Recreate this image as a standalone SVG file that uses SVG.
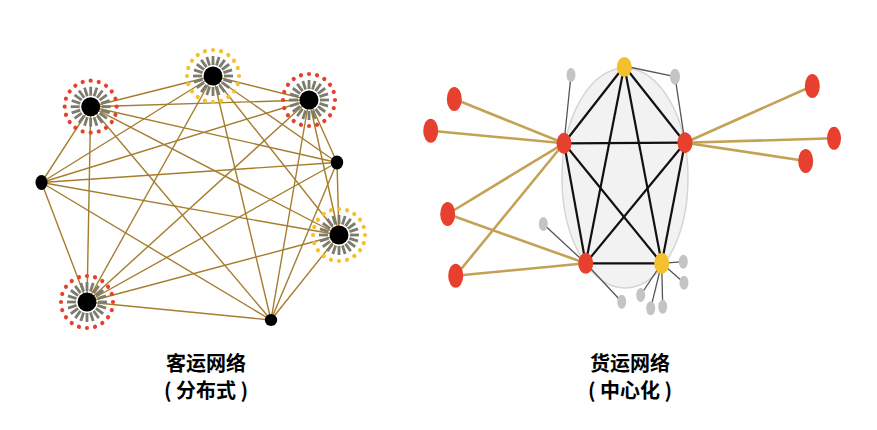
<svg xmlns="http://www.w3.org/2000/svg" xmlns:xlink="http://www.w3.org/1999/xlink" width="877" height="430" viewBox="0 0 877 430">
<style>
.e1{stroke:#a67d2e;stroke-width:1.4;fill:none}
.blk{fill:#000}
.spk{stroke:#7c7c6e;stroke-width:2.8}
.hub{stroke:#111;stroke-width:2.2}
.gold{stroke:#c4a255;stroke-width:2.6}
.thin{stroke:#555;stroke-width:1.3}
.red{fill:#e8402e}
.yel{fill:#f4c02c}
.gry{fill:#c4c4c4}
.lbl{font-family:"Noto Sans CJK SC","Noto Sans",sans-serif;font-weight:bold;font-size:20px;text-anchor:middle;fill:#000}
</style>
<defs>
<g id="spokes" class="spk">
<line x1="11" y1="0" x2="20" y2="0"/>
<line x1="11" y1="0" x2="20" y2="0" transform="rotate(18)"/>
<line x1="11" y1="0" x2="20" y2="0" transform="rotate(36)"/>
<line x1="11" y1="0" x2="20" y2="0" transform="rotate(54)"/>
<line x1="11" y1="0" x2="20" y2="0" transform="rotate(72)"/>
<line x1="11" y1="0" x2="20" y2="0" transform="rotate(90)"/>
<line x1="11" y1="0" x2="20" y2="0" transform="rotate(108)"/>
<line x1="11" y1="0" x2="20" y2="0" transform="rotate(126)"/>
<line x1="11" y1="0" x2="20" y2="0" transform="rotate(144)"/>
<line x1="11" y1="0" x2="20" y2="0" transform="rotate(162)"/>
<line x1="11" y1="0" x2="20" y2="0" transform="rotate(180)"/>
<line x1="11" y1="0" x2="20" y2="0" transform="rotate(198)"/>
<line x1="11" y1="0" x2="20" y2="0" transform="rotate(216)"/>
<line x1="11" y1="0" x2="20" y2="0" transform="rotate(234)"/>
<line x1="11" y1="0" x2="20" y2="0" transform="rotate(252)"/>
<line x1="11" y1="0" x2="20" y2="0" transform="rotate(270)"/>
<line x1="11" y1="0" x2="20" y2="0" transform="rotate(288)"/>
<line x1="11" y1="0" x2="20" y2="0" transform="rotate(306)"/>
<line x1="11" y1="0" x2="20" y2="0" transform="rotate(324)"/>
<line x1="11" y1="0" x2="20" y2="0" transform="rotate(342)"/>
</g>
<g id="dots">
<circle cx="26" cy="0" r="2.1"/>
<circle cx="26" cy="0" r="2.1" transform="rotate(18)"/>
<circle cx="26" cy="0" r="2.1" transform="rotate(36)"/>
<circle cx="26" cy="0" r="2.1" transform="rotate(54)"/>
<circle cx="26" cy="0" r="2.1" transform="rotate(72)"/>
<circle cx="26" cy="0" r="2.1" transform="rotate(90)"/>
<circle cx="26" cy="0" r="2.1" transform="rotate(108)"/>
<circle cx="26" cy="0" r="2.1" transform="rotate(126)"/>
<circle cx="26" cy="0" r="2.1" transform="rotate(144)"/>
<circle cx="26" cy="0" r="2.1" transform="rotate(162)"/>
<circle cx="26" cy="0" r="2.1" transform="rotate(180)"/>
<circle cx="26" cy="0" r="2.1" transform="rotate(198)"/>
<circle cx="26" cy="0" r="2.1" transform="rotate(216)"/>
<circle cx="26" cy="0" r="2.1" transform="rotate(234)"/>
<circle cx="26" cy="0" r="2.1" transform="rotate(252)"/>
<circle cx="26" cy="0" r="2.1" transform="rotate(270)"/>
<circle cx="26" cy="0" r="2.1" transform="rotate(288)"/>
<circle cx="26" cy="0" r="2.1" transform="rotate(306)"/>
<circle cx="26" cy="0" r="2.1" transform="rotate(324)"/>
<circle cx="26" cy="0" r="2.1" transform="rotate(342)"/>
</g>
</defs>
<rect width="877" height="430" fill="#fff"/>

<!-- Left network connectors (complete graph) -->
<g id="left-connectors" class="e1">
<line x1="90.7" y1="106.7" x2="213" y2="76"/>
<line x1="90.7" y1="106.7" x2="309" y2="100"/>
<line x1="90.7" y1="106.7" x2="337" y2="162.5"/>
<line x1="90.7" y1="106.7" x2="339" y2="235"/>
<line x1="90.7" y1="106.7" x2="271" y2="320"/>
<line x1="90.7" y1="106.7" x2="87" y2="302"/>
<line x1="90.7" y1="106.7" x2="41.5" y2="182.5"/>
<line x1="213" y1="76" x2="309" y2="100"/>
<line x1="213" y1="76" x2="337" y2="162.5"/>
<line x1="213" y1="76" x2="339" y2="235"/>
<line x1="213" y1="76" x2="271" y2="320"/>
<line x1="213" y1="76" x2="87" y2="302"/>
<line x1="213" y1="76" x2="41.5" y2="182.5"/>
<line x1="309" y1="100" x2="337" y2="162.5"/>
<line x1="309" y1="100" x2="339" y2="235"/>
<line x1="309" y1="100" x2="271" y2="320"/>
<line x1="309" y1="100" x2="87" y2="302"/>
<line x1="309" y1="100" x2="41.5" y2="182.5"/>
<line x1="337" y1="162.5" x2="339" y2="235"/>
<line x1="337" y1="162.5" x2="271" y2="320"/>
<line x1="337" y1="162.5" x2="87" y2="302"/>
<line x1="337" y1="162.5" x2="41.5" y2="182.5"/>
<line x1="339" y1="235" x2="271" y2="320"/>
<line x1="339" y1="235" x2="87" y2="302"/>
<line x1="339" y1="235" x2="41.5" y2="182.5"/>
<line x1="271" y1="320" x2="87" y2="302"/>
<line x1="271" y1="320" x2="41.5" y2="182.5"/>
<line x1="87" y1="302" x2="41.5" y2="182.5"/>
</g>

<!-- Left network nodes -->
<g id="p1" transform="translate(90.7,106.7)"><use xlink:href="#dots" class="red"/><use xlink:href="#spokes"/><circle r="9.5" class="blk"/></g>
<g id="p2" transform="translate(213,76)"><use xlink:href="#dots" class="yel"/><use xlink:href="#spokes"/><circle r="9.5" class="blk"/></g>
<g id="p3" transform="translate(309,100)"><use xlink:href="#dots" class="red"/><use xlink:href="#spokes"/><circle r="9.5" class="blk"/></g>
<g id="p4"><ellipse cx="337" cy="162.5" rx="6.2" ry="7" class="blk"/></g>
<g id="p5" transform="translate(339,235)"><use xlink:href="#dots" class="yel"/><use xlink:href="#spokes"/><circle r="9.5" class="blk"/></g>
<g id="p6"><ellipse cx="271" cy="320" rx="6.2" ry="6" class="blk"/></g>
<g id="p7" transform="translate(87,302)"><use xlink:href="#dots" class="red"/><use xlink:href="#spokes"/><circle r="9.5" class="blk"/></g>
<g id="p8"><ellipse cx="41.5" cy="182.5" rx="6" ry="7.5" class="blk"/></g>

<!-- Right network background cluster -->
<g id="cluster"><ellipse cx="625" cy="178" rx="63" ry="110" fill="#f2f2f2" stroke="#d6d6ce" stroke-width="1.5"/></g>

<!-- Right network connectors -->
<g id="right-connectors">
<g class="gold">
<line x1="564" y1="143.3" x2="454.3" y2="99"/>
<line x1="564" y1="143.3" x2="430.7" y2="130.7"/>
<line x1="564" y1="143.3" x2="447.7" y2="214"/>
<line x1="564" y1="143.3" x2="455.7" y2="275.7"/>
<line x1="585.7" y1="263.3" x2="447.7" y2="214"/>
<line x1="585.7" y1="263.3" x2="455.7" y2="275.7"/>
<line x1="685" y1="142.7" x2="812.3" y2="86"/>
<line x1="685" y1="142.7" x2="834" y2="138.3"/>
<line x1="685" y1="142.7" x2="805.7" y2="161"/>
</g>
<g class="thin">
<line x1="564" y1="143.3" x2="571" y2="75"/>
<line x1="624.3" y1="66" x2="675" y2="76.7"/>
<line x1="685" y1="142.7" x2="675" y2="76.7"/>
<line x1="585.7" y1="263.3" x2="543.3" y2="224"/>
<line x1="585.7" y1="263.3" x2="621.7" y2="301.7"/>
<line x1="661.7" y1="263.3" x2="683.3" y2="261.7"/>
<line x1="661.7" y1="263.3" x2="684" y2="282.7"/>
<line x1="661.7" y1="263.3" x2="640.7" y2="295"/>
<line x1="661.7" y1="263.3" x2="650.7" y2="308.3"/>
<line x1="661.7" y1="263.3" x2="662.7" y2="306.7"/>
</g>
<g class="hub">
<line x1="624.3" y1="66" x2="564" y2="143.3"/>
<line x1="624.3" y1="66" x2="685" y2="142.7"/>
<line x1="624.3" y1="66" x2="585.7" y2="263.3"/>
<line x1="624.3" y1="66" x2="661.7" y2="263.3"/>
<line x1="564" y1="143.3" x2="685" y2="142.7"/>
<line x1="564" y1="143.3" x2="585.7" y2="263.3"/>
<line x1="564" y1="143.3" x2="661.7" y2="263.3"/>
<line x1="685" y1="142.7" x2="585.7" y2="263.3"/>
<line x1="685" y1="142.7" x2="661.7" y2="263.3"/>
<line x1="585.7" y1="263.3" x2="661.7" y2="263.3"/>
</g>
</g>

<!-- Right network nodes -->
<g id="h-top"><ellipse cx="624.3" cy="67" rx="7.5" ry="10" class="yel"/></g>
<g id="h-left"><ellipse cx="564" cy="143.3" rx="7.5" ry="10.5" class="red"/></g>
<g id="h-right"><ellipse cx="685" cy="142.7" rx="7.5" ry="10.5" class="red"/></g>
<g id="h-bred"><ellipse cx="585.7" cy="263.3" rx="7.5" ry="10.5" class="red"/></g>
<g id="h-byel"><ellipse cx="661.7" cy="263.3" rx="7.5" ry="10.5" class="yel"/></g>
<g id="o1"><ellipse cx="454.3" cy="99" rx="7.5" ry="12" class="red"/></g>
<g id="o2"><ellipse cx="430.7" cy="130.7" rx="7.5" ry="12" class="red"/></g>
<g id="o3"><ellipse cx="447.7" cy="214" rx="7.5" ry="12" class="red"/></g>
<g id="o4"><ellipse cx="455.7" cy="275.7" rx="7.5" ry="12" class="red"/></g>
<g id="o5"><ellipse cx="812.3" cy="86" rx="7.5" ry="12" class="red"/></g>
<g id="o6"><ellipse cx="834" cy="138.3" rx="7" ry="11.5" class="red"/></g>
<g id="o7"><ellipse cx="805.7" cy="161" rx="7.5" ry="12" class="red"/></g>
<g id="g1"><ellipse cx="571" cy="75" rx="4.5" ry="7" class="gry"/></g>
<g id="g2"><ellipse cx="675" cy="76.7" rx="5" ry="8" class="gry"/></g>
<g id="g3"><ellipse cx="543.3" cy="224" rx="4.5" ry="7" class="gry"/></g>
<g id="g4"><ellipse cx="621.7" cy="301.7" rx="4.5" ry="7" class="gry"/></g>
<g id="g5"><ellipse cx="683.3" cy="261.7" rx="4.5" ry="7" class="gry"/></g>
<g id="g6"><ellipse cx="684" cy="282.7" rx="4.5" ry="7" class="gry"/></g>
<g id="g7"><ellipse cx="640.7" cy="295" rx="4.5" ry="7" class="gry"/></g>
<g id="g8"><ellipse cx="650.7" cy="308.3" rx="4.5" ry="7" class="gry"/></g>
<g id="g9"><ellipse cx="662.7" cy="306.7" rx="4.5" ry="7" class="gry"/></g>

<!-- Labels -->
<g id="label-left">
<text x="206" y="371" class="lbl">客运网络</text>
<text x="206" y="398" class="lbl">( 分布式 )</text>
</g>
<g id="label-right">
<text x="630" y="371" class="lbl">货运网络</text>
<text x="630" y="398" class="lbl">( 中心化 )</text>
</g>
</svg>
